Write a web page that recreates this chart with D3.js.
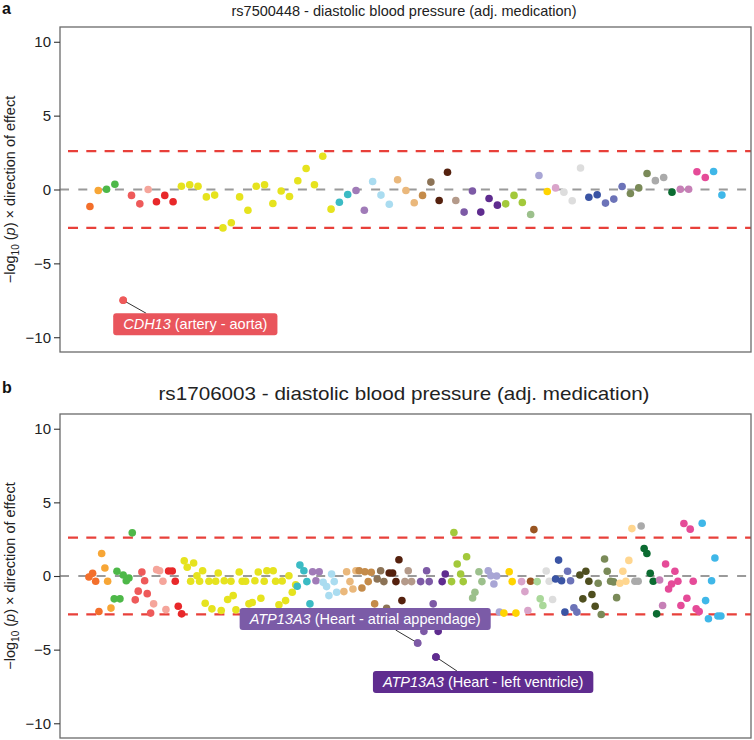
<!DOCTYPE html>
<html><head><meta charset="utf-8">
<script src="https://cdn.jsdelivr.net/npm/d3@7"></script>
<style>body{margin:0;background:#fff}svg{display:block;font-family:"Liberation Sans",Arial,Helvetica,sans-serif}</style>
</head><body><svg id="c" width="754" height="740"></svg>
<script>
// ---------------- DATA ----------------
const tissues = ["Adipose - Subcutaneous","Adipose - Visceral","Adrenal Gland","Artery - Aorta","Artery - Coronary","Artery - Tibial","Brain","Breast","Cells - EBV lymphocytes","Cells - fibroblasts","Colon - Sigmoid","Colon - Transverse","Esophagus - GEJ","Esophagus - Mucosa","Esophagus - Muscularis","Heart - Atrial Appendage","Heart - Left Ventricle","Lung","Minor Salivary Gland","Muscle - Skeletal","Nerve - Tibial","Ovary","Pancreas","Pituitary","Prostate","Skin - Not Sun Exposed","Skin - Sun Exposed","Small Intestine","Spleen","Stomach","Testis","Thyroid","Uterus","Vagina","Whole Blood"];
const tissueColors = ["#F36F2B","#F7A636","#4DB848","#EE5A5A","#F5A59B","#E8282A","#E6E31E","#3BBBC4","#A07BB8","#AADCF0","#EAB87C","#C48B4A","#8C7356","#55210E","#B49A8A","#7D5AA6","#5F2C8F","#A3C93B","#9CC08C","#A9A6D5","#FFD400","#D9A4CA","#995522","#AAD89A","#DDDDDD","#3A54A4","#6C73B8","#4F4F1F","#7A8A58","#FFD68F","#AAAAAA","#0B6B31","#C67FB6","#E54B98","#3FB7E8"];

// panel a: one value per gene-tissue pair, plotted in order
const aValues = [
 [-1.15],[-0.07],[0.02,0.36],[-7.5,-0.4,-0.97],[0.0],[-0.83,-0.4,-0.83],
 [0.22,0.32,0.22,-0.5,-0.38,-2.6,-2.25,-0.5,-1.4,0.22,0.32,-0.95,-0.1,-0.47,0.59,1.42,0.32,2.25,-1.33],
 [-0.86,-0.34],[-0.07,-1.4],[0.54,-0.38,-1.0],[0.66,-0.07,-0.9],[-0.4],[0.5],[-0.74,1.17],[-0.74],
 [-1.53,-0.1],[-1.53,-0.61,-1.06],[-0.97,-0.4,-0.88],[-1.69],[0.95],[-0.14],[0.11],[],[],
 [-0.18,-0.76,1.46],[-0.52,-0.36],[-0.92,-0.65,0.2],[],[-0.27,0.11,1.08],[],[0.6,0.81],[-0.18],
 [0.02,0.02],[1.2,0.81],[1.22,-0.38]
];

// panel b: position along the tissue axis and value, per tissue
const bPositions = [
 [-0.12,0.32,0.69,1.08],
 [1.41,1.80,2.13,2.53],
 [2.92,3.25,3.61,4.00,4.37,4.69,5.09],
 [5.45,5.81,6.25,6.58,6.89,7.30],
 [7.66,8.02,8.38,8.78,9.14],
 [9.46,9.90,10.26,10.62,11.03],
 [11.34,11.70,12.11,12.47,12.87,13.19,13.55,13.86,14.31,14.67,15.12,15.43,15.79,16.15,16.56,16.96,17.23,17.56,17.95,18.31,18.72,19.12,19.52,19.84,20.24,20.56,20.96,21.28,22.04,22.33,22.73,23.12,23.53,23.93,24.33,24.74],
 [24.93,25.25,25.73,26.09,26.46],
 [26.78,27.18,27.57],
 [28.05,28.46,28.74,29.06,29.38,29.67],
 [30.54,30.87,31.27,31.63,31.99],
 [32.38,32.71,33.07,33.47,33.83,34.24],
 [34.55,34.96,35.35,35.68],
 [35.99,36.40,36.80,37.16,37.52],
 [37.88,38.28,38.68],
 [39.41,39.77,40.16,40.49,40.80,41.28],
 [41.61,41.88,42.36,42.73],
 [43.49,43.77,44.17,44.58,44.89,45.30],
 [46.02,46.30,46.78,47.14],
 [47.90,48.22,48.58,48.91,49.24],
 [49.78,50.42,50.78,51.23],
 [51.91,52.31,52.67],
 [52.99,53.39],
 [53.79,54.15,54.47],
 [54.87,55.23,55.64],
 [56.0,56.36,56.72,57.12],
 [57.44,57.80,58.20,58.56],
 [58.92,59.28,59.64,60.0,60.37,60.76],
 [61.12,61.49,61.89,62.21,62.61,62.98,63.34],
 [63.73,64.09,64.45,64.81,65.18],
 [65.54,65.93,66.29],
 [66.65,66.98,67.38,67.74,68.15],
 [68.51,68.87],
 [69.23,69.59,69.95,70.35,70.71,71.07,71.43,71.79,72.19,72.55,72.91,73.27],
 [73.63,74.04,74.38,74.76,75.16,75.52,75.88]
];
const bValues = [
 [-0.07,0.18,-0.36,-2.41],
 [1.53,0.54,-0.36,-2.18],
 [-1.55,0.32,-1.55,0.07,-0.32,-0.14,2.93],
 [-1.62,-1.03,0.27,-0.32,-1.2,-2.52],
 [-1.89,0.43,0.36,-0.36,-2.28],
 [0.34,0.34,-0.36,-2.05,-2.57],
 [1.03,0.59,-0.36,0.88,0.02,-0.36,0.36,-1.85,-0.36,-2.23,-0.36,0.2,-2.34,-0.32,-1.6,-0.36,-1.33,-2.3,0.27,-0.36,-0.36,-1.89,-1.8,-0.32,0.27,-1.51,-0.36,0.36,0.36,-0.36,-1.96,-0.34,-1.67,0.02,-1.1,-0.59],
 [-0.7,0.74,0.36,-0.38,-1.89],
 [0.29,-0.32,0.29],
 [-0.43,-0.72,-1.33,0.14,-0.38,-1.1],
 [-1.06,0.29,-0.38,-0.88,0.36],
 [0.36,-0.81,0.29,-0.38,0.25,-1.89],
 [-0.2,0.36,-0.38,-2.2],
 [0.2,0.2,-0.38,1.1,-1.67],
 [-0.38,0.36,-0.38],
 [-4.55,-0.38,-3.76,0.36,-0.38,-1.89],
 [-5.5,-3.76,-0.38,0.14],
 [-0.38,2.95,0.81,0.14,-0.38,1.31],
 [-1.49,-1.1,0.29,-0.38],
 [0.36,0.02,-0.54,0.0,-2.45],
 [-2.52,0.29,-0.38,-2.52],
 [-0.38,-1.06,-2.34],
 [-0.36,3.15],
 [-0.38,-1.55,-2.0],
 [0.34,-0.36,-1.6],
 [-0.2,1.08,-0.32,-2.45],
 [0.32,-0.32,-2.16,-2.45],
 [0.07,-1.55,0.32,-0.36,-1.26,-2.05],
 [-0.49,-2.61,1.15,0.32,-0.36,-0.4,-1.47],
 [-0.49,0.32,-0.36,1.06,3.22],
 [-0.36,-0.36,3.4],
 [1.87,1.53,0.18,-0.36,-2.57],
 [-0.27,-2.0],
 [0.81,-0.88,-0.54,0.32,-0.36,-2.0,3.56,-1.51,3.18,-0.36,-2.23,-2.41],
 [3.58,-1.67,-2.9,-0.32,1.22,-2.72,-2.72]
];

const yTicks = [-10,-5,0,5,10];
const thresholds = [2.6,-2.6];
const panelTitles = ["rs7500448 - diastolic blood pressure (adj. medication)","rs1706003 - diastolic blood pressure (adj. medication)"];
const panelLetters = ["a","b"];
const annotations = [
 {panel:0, tissue:3, item:0, gene:"CDH13", label:"artery - aorta", fill:"#E9555C"},
 {panel:1, tissue:15, item:0, gene:"ATP13A3", label:"Heart - atrial appendage", fill:"#7B5BA7"},
 {panel:1, tissue:16, item:0, gene:"ATP13A3", label:"Heart - left ventricle", fill:"#5F2C8F"}
];

// ---------------- DRAW ----------------
const svg = d3.select("#c");
svg.append("rect").attr("width",754).attr("height",740).attr("fill","#fff");

const pointsA = [];
let k = 0;
aValues.forEach((vals,t)=>vals.forEach((v,i)=>pointsA.push({t,i,pos:k++,v})));
const pointsB = [];
bValues.forEach((vals,t)=>vals.forEach((v,i)=>pointsB.push({t,i,pos:bPositions[t][i],v})));

const R = 3.8;
const x = d3.scaleLinear().domain([-3.6,79.5]).range([60,751]);
const layout = [
 {top:27, bottom:352, titleY:16, titleSize:14.5, titleLen:null, letterY:14, points:pointsA},
 {top:414, bottom:738, titleY:400, titleSize:19, titleLen:491, letterY:393, points:pointsB}
];
const annotLayout = [
 {bx:-10, by:13, lx:23, ly:13},
 {bx:-178, by:-35, lx:-22, ly:-13},
 {bx:-63, by:14, lx:21, ly:14}
];

layout.forEach((L,p)=>{
  const y = d3.scaleLinear().domain([-11,11]).range([L.bottom,L.top]);
  const g = svg.append("g");
  const [x0,x1] = x.range();

  // reference lines
  g.append("line").attr("x1",x0).attr("x2",x1).attr("y1",y(0)).attr("y2",y(0))
    .attr("stroke","#9a9a9a").attr("stroke-width",2).attr("stroke-dasharray","9,9.3");
  thresholds.forEach(th=>{
    g.append("line").attr("x1",x0).attr("x2",x1).attr("y1",y(th)).attr("y2",y(th))
      .attr("stroke","#E8403A").attr("stroke-width",2.2).attr("stroke-dasharray","10,8.3")
      .attr("stroke-dashoffset",-8);
  });

  // points
  g.append("g").selectAll("circle").data(L.points).join("circle")
    .attr("cx",d=>x(d.pos)).attr("cy",d=>y(d.v)).attr("r",R)
    .attr("fill",d=>tissueColors[d.t]);

  // frame
  g.append("rect").attr("x",x0).attr("y",L.top).attr("width",x1-x0).attr("height",L.bottom-L.top)
    .attr("fill","none").attr("stroke","#6a6a6a").attr("stroke-width",1.3);

  // y axis
  const ax = g.append("g").attr("transform",`translate(${x0},0)`)
    .call(d3.axisLeft(y).tickValues(yTicks).tickSize(6).tickPadding(3));
  ax.select(".domain").remove();
  ax.selectAll(".tick line").attr("stroke","#333").attr("stroke-width",1.1);
  ax.selectAll(".tick text").attr("font-size",15).attr("fill","#222")
    .attr("font-family","'Liberation Sans',Arial,sans-serif");

  // y label
  const yl = g.append("text").attr("transform",`translate(15,${(L.top+L.bottom)/2}) rotate(-90)`)
    .attr("text-anchor","middle").attr("font-size",14.5).attr("fill","#222");
  yl.append("tspan").text("\u2212log");
  yl.append("tspan").attr("font-size",10).attr("dy",3.5).text("10");
  yl.append("tspan").attr("dy",-3.5).text(" (");
  yl.append("tspan").attr("font-style","italic").text("p");
  yl.append("tspan").text(") \u00d7 direction of effect");

  // title
  const tt = g.append("text").attr("x",404).attr("y",L.titleY).attr("text-anchor","middle")
    .attr("font-size",L.titleSize).attr("fill","#222").text(panelTitles[p]);
  if (L.titleLen) tt.attr("textLength",L.titleLen).attr("lengthAdjust","spacingAndGlyphs");

  // panel letter
  g.append("text").attr("x",2).attr("y",L.letterY).attr("font-size",16).attr("font-weight","bold")
    .attr("fill","#111").text(panelLetters[p]);

  // annotations
  annotations.forEach((a,ai)=>{
    if (a.panel!==p) return;
    const pt = L.points.find(d=>d.t===a.tissue && d.i===a.item);
    const cx = x(pt.pos), cy = y(pt.v);
    const o = annotLayout[ai];
    g.append("line").attr("x1",cx).attr("y1",cy).attr("x2",cx+o.lx).attr("y2",cy+o.ly)
      .attr("stroke","#333").attr("stroke-width",1);
    const bx = cx+o.bx, by = cy+o.by, bh = 22;
    const rect = g.append("rect").attr("x",bx).attr("y",by).attr("height",bh).attr("rx",3).attr("fill",a.fill);
    const t = g.append("text").attr("x",bx+10).attr("y",by+16).attr("font-size",14.5).attr("fill","#fff");
    t.append("tspan").attr("font-style","italic").text(a.gene);
    t.append("tspan").text(" ("+a.label+")");
    const w = t.node().getComputedTextLength();
    rect.attr("width",w+20);
    g.append("circle").attr("cx",cx).attr("cy",cy).attr("r",R).attr("fill",tissueColors[pt.t]);
  });
});
</script></body></html>
